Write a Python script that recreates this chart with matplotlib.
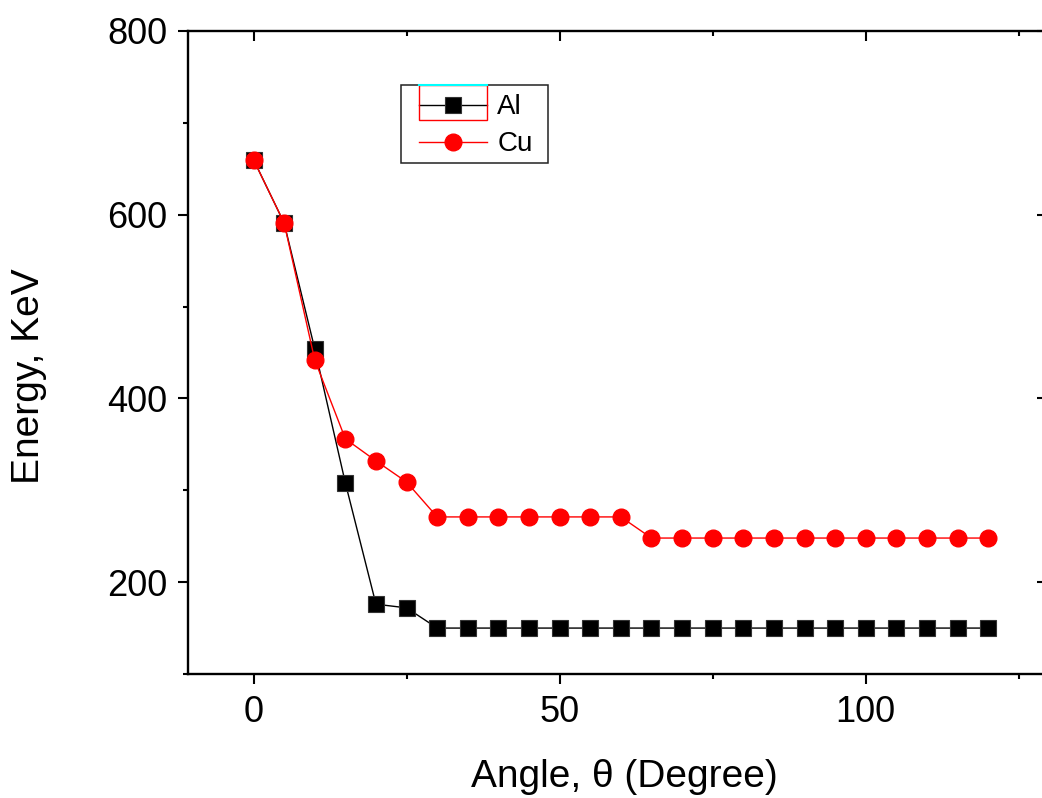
import matplotlib
matplotlib.use("Agg")
import matplotlib.pyplot as plt
from matplotlib.ticker import MultipleLocator
from matplotlib.patches import Rectangle
from matplotlib.lines import Line2D

plt.rcParams['font.family'] = ['Liberation Sans', 'DejaVu Sans']

angle = [0, 5, 10, 15, 20, 25, 30, 35, 40, 45, 50, 55, 60, 65, 70, 75, 80, 85,
         90, 95, 100, 105, 110, 115, 120]
al_energy = [660, 591, 454, 308, 176, 172, 150, 150, 150, 150, 150, 150, 150,
             150, 150, 150, 150, 150, 150, 150, 150, 150, 150, 150, 150]
cu_energy = [660, 591, 442, 356, 332, 309, 271, 271, 271, 271, 271, 271, 271,
             248, 248, 248, 248, 248, 248, 248, 248, 248, 248, 248, 248]

W, H = 1042, 798
fig = plt.figure(figsize=(W / 100, H / 100), dpi=100)
L, R, T, B = 188, 1047, 31, 674
ax = fig.add_axes([L / W, 1 - B / H, (R - L) / W, (B - T) / H])

ax.plot(angle, al_energy, color='black', lw=1.0, marker='s', ms=11,
        mfc='black', mec='#333333', mew=0.8, label='Al', zorder=3)
ax.plot(angle, cu_energy, color='red', lw=1.0, marker='o', ms=12,
        mfc='red', mec='red', label='Cu', zorder=4)

ax.set_xlim(-10.7, 129.6)
ax.set_ylim(100, 800)
ax.xaxis.set_major_locator(MultipleLocator(50))
ax.xaxis.set_minor_locator(MultipleLocator(25))
ax.yaxis.set_major_locator(MultipleLocator(200))
ax.yaxis.set_minor_locator(MultipleLocator(100))
ax.set_yticks([200, 400, 600, 800])

for s in ax.spines.values():
    s.set_linewidth(1.7)

ax.tick_params(which='both', top=True, right=True, width=1.5)
ax.tick_params(axis='both', which='major', length=7, labelsize=26)
ax.tick_params(axis='both', which='minor', length=3.6)
ax.tick_params(axis='x', which='both', direction='out', pad=8)
ax.tick_params(axis='y', which='both', direction='out', pad=8)
ax.tick_params(axis='x', which='both', top=True, labeltop=False)
ax.tick_params(axis='y', which='both', right=True, labelright=False)
# mirrored ticks point inward
for t in ax.xaxis.get_major_ticks() + ax.xaxis.get_minor_ticks():
    t.tick2line.set_marker(3)
for t in ax.yaxis.get_major_ticks() + ax.yaxis.get_minor_ticks():
    t.tick2line.set_marker(0)

ax.set_xlabel('Angle, θ (Degree)', fontsize=28)
ax.set_ylabel('Energy, KeV', fontsize=28)
ax.xaxis.label.set_position(((624 - L) / (R - L), 0))
ax.xaxis.labelpad = 21
ax.yaxis.label.set_position((0, 1 - (376 - T) / (B - T)))
ax.yaxis.labelpad = 43

# legend (frame drawn separately to match the box geometry)
leg = ax.legend(loc='upper left', bbox_to_anchor=(411 / W, 1 - 86 / H),
                bbox_transform=fig.transFigure, borderaxespad=0,
                frameon=False, fontsize=20, handlelength=2.45,
                handletextpad=0.36, borderpad=0.3, labelspacing=0.4)
leg.set_zorder(8)
ax.add_patch(Rectangle((401 / W, 1 - 163 / H), 147 / W, 78 / H,
                       transform=fig.transFigure, fill=True,
                       facecolor='white', edgecolor='#222222', lw=1.1,
                       zorder=7))

# rendering artefact around the Al legend entry
ax.add_patch(Rectangle((419 / W, 1 - 120 / H), 68 / W, 35 / H,
                       transform=fig.transFigure, fill=False,
                       edgecolor='red', lw=1.0, zorder=9))
ax.add_line(Line2D([419 / W, 487 / W], [1 - 85 / H, 1 - 85 / H],
                   transform=fig.transFigure, color='cyan', lw=1.5,
                   zorder=10))

fig.savefig('out.png', dpi=100)
